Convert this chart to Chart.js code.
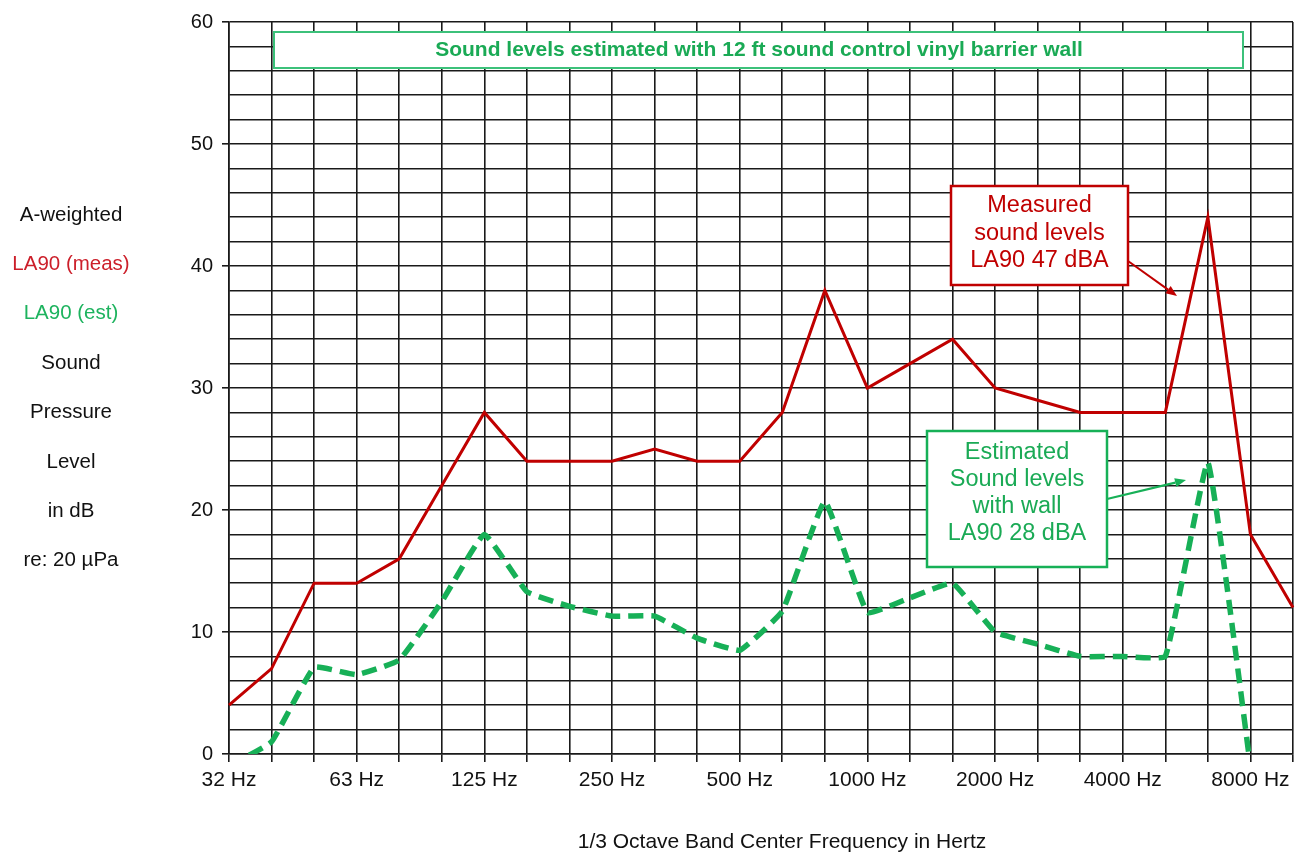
<!DOCTYPE html>
<html>
<head>
<meta charset="utf-8">
<script src="https://cdn.jsdelivr.net/npm/chart.js@4"></script>
<style>
  html, body { margin: 0; padding: 0; background: #fff; }
  #wrap { position: relative; width: 1301px; height: 854px; }
</style>
</head>
<body>
<div id="wrap"><canvas id="c" width="1301" height="854"></canvas></div>
<script>
// 1/3 octave band centre frequencies (Hz)
const bands = ['32','40','50','63','80','100','125','160','200','250','315','400','500','630','800','1000','1250','1600','2000','2500','3150','4000','5000','6300','8000','10000'];
// Bands that carry a tick label
const labelledBands = ['32','63','125','250','500','1000','2000','4000','8000'];
// LA90 measured (dB)
const measured = [4, 7, 14, 14, 16, 22, 28, 24, 24, 24, 25, 24, 24, 28, 38, 30, 32, 34, 30, 29, 28, 28, 28, 44, 18, 12];
// LA90 estimated with wall (dB)
const estimated = [-1, 1, 7.1, 6.5, 7.7, 12.5, 18, 13.3, 12.1, 11.3, 11.3, 9.5, 8.5, 11.7, 20.7, 11.6, 12.8, 14, 10, 9, 8, 8, 8, 23.9, -1, null];
// Y ticks
const yMin = 0, yMax = 60, yGridStep = 2, yLabelStep = 10;

const FONT = "'Liberation Sans', Arial, Helvetica, sans-serif";
const RED = '#c00000';
const GREEN = '#17b057';
const GREEN_TXT = '#1aaa55';
const GRID = '#1a1a1a';

const annotations = {
  id: 'annotations',
  afterDraw(chart) {
    const ctx = chart.ctx;
    ctx.save();
    // ---- left multi-line axis title
    const leftLines = [
      ['A-weighted', '#111'],
      ['LA90 (meas)', '#cc1f2a'],
      ['LA90 (est)', '#1db35e'],
      ['Sound', '#111'],
      ['Pressure', '#111'],
      ['Level', '#111'],
      ['in dB', '#111'],
      ['re: 20 µPa', '#111']
    ];
    ctx.font = '20.5px ' + FONT;
    ctx.textAlign = 'center';
    ctx.textBaseline = 'middle';
    leftLines.forEach((l, i) => {
      ctx.fillStyle = l[1];
      ctx.fillText(l[0], 71, 215 + i * 49.4);
    });

    // ---- x axis title
    ctx.fillStyle = '#111';
    ctx.font = '21px ' + FONT;
    ctx.fillText('1/3 Octave Band Center Frequency in Hertz', 782, 842);

    // ---- title box
    ctx.fillStyle = '#fff';
    ctx.fillRect(274, 32, 969, 36);
    ctx.strokeStyle = '#3cc17a';
    ctx.lineWidth = 2;
    ctx.strokeRect(274, 32, 969, 36);
    ctx.fillStyle = GREEN_TXT;
    ctx.font = 'bold 21px ' + FONT;
    ctx.fillText('Sound levels estimated with 12 ft sound control vinyl barrier wall', 759, 50);

    // ---- arrows
    function arrow(x1, y1, x2, y2, color, w) {
      ctx.strokeStyle = color;
      ctx.fillStyle = color;
      ctx.lineWidth = w;
      const a = Math.atan2(y2 - y1, x2 - x1);
      const L = 11, W = 4.5;
      const bx = x2 - L * Math.cos(a), by = y2 - L * Math.sin(a);
      ctx.beginPath();
      ctx.moveTo(x1, y1);
      ctx.lineTo(bx, by);
      ctx.stroke();
      ctx.beginPath();
      ctx.moveTo(x2, y2);
      ctx.lineTo(bx + W * Math.sin(a), by - W * Math.cos(a));
      ctx.lineTo(bx - W * Math.sin(a), by + W * Math.cos(a));
      ctx.closePath();
      ctx.fill();
    }
    arrow(1128, 261, 1177, 296, RED, 2);
    arrow(1107, 499, 1186, 480, GREEN, 2.2);

    // ---- measured box
    ctx.fillStyle = '#fff';
    ctx.fillRect(951, 186, 177, 99);
    ctx.strokeStyle = RED;
    ctx.lineWidth = 2.5;
    ctx.strokeRect(951, 186, 177, 99);
    ctx.fillStyle = RED;
    ctx.font = '23.5px ' + FONT;
    ['Measured', 'sound levels', 'LA90 47 dBA'].forEach((t, i) => {
      ctx.fillText(t, 1039.5, 206 + i * 27.5);
    });

    // ---- estimated box
    ctx.fillStyle = '#fff';
    ctx.fillRect(927, 431, 180, 136);
    ctx.strokeStyle = GREEN;
    ctx.lineWidth = 2.5;
    ctx.strokeRect(927, 431, 180, 136);
    ctx.fillStyle = GREEN_TXT;
    ['Estimated', 'Sound levels', 'with wall', 'LA90 28 dBA'].forEach((t, i) => {
      ctx.fillText(t, 1017, 453 + i * 27);
    });
    ctx.restore();
  }
};

new Chart(document.getElementById('c'), {
  type: 'line',
  data: {
    labels: bands,
    datasets: [
      {
        label: 'LA90 (meas)',
        data: measured,
        borderColor: RED,
        borderWidth: 3,
        pointRadius: 0,
        tension: 0,
        borderJoinStyle: 'miter'
      },
      {
        label: 'LA90 (est)',
        data: estimated,
        borderColor: GREEN,
        borderWidth: 5.5,
        borderDash: [15, 8],
        pointRadius: 0,
        tension: 0.1,
        clip: 0,
        spanGaps: false
      }
    ]
  },
  options: {
    responsive: false,
    animation: false,
    devicePixelRatio: 1,
    layout: { padding: { left: 0, right: 8, top: 22, bottom: 0 } },
    plugins: { legend: { display: false }, tooltip: { enabled: false }, title: { display: false } },
    scales: {
      x: {
        type: 'category',
        offset: false,
        grid: {
          color: GRID,
          lineWidth: 1.6,
          drawTicks: true,
          tickLength: 8,
          tickColor: GRID,
          tickWidth: 1.6
        },
        border: { display: true, color: GRID, width: 1.6 },
        ticks: {
          autoSkip: false,
          maxRotation: 0,
          minRotation: 0,
          padding: 6,
          color: '#111',
          font: { size: 21, family: FONT },
          callback: function (v, i) {
            const b = bands[i];
            return labelledBands.includes(b) ? b + ' Hz' : '';
          }
        },
        afterFit: s => { s.height = 100; }
      },
      y: {
        min: yMin,
        max: yMax,
        grid: {
          color: GRID,
          lineWidth: 1.6,
          drawTicks: true,
          tickLength: 7,
          tickWidth: 1.6,
          tickColor: c => (c.tick && c.tick.value % yLabelStep === 0) ? GRID : 'rgba(0,0,0,0)'
        },
        border: { display: true, color: GRID, width: 1.6 },
        ticks: {
          stepSize: yGridStep,
          maxTicksLimit: 100,
          autoSkip: false,
          padding: 9,
          color: '#111',
          font: { size: 20, family: FONT },
          callback: v => (v % yLabelStep === 0 ? v : '')
        },
        afterFit: s => { s.width = 229; }
      }
    }
  },
  plugins: [annotations]
});
</script>
</body>
</html>
